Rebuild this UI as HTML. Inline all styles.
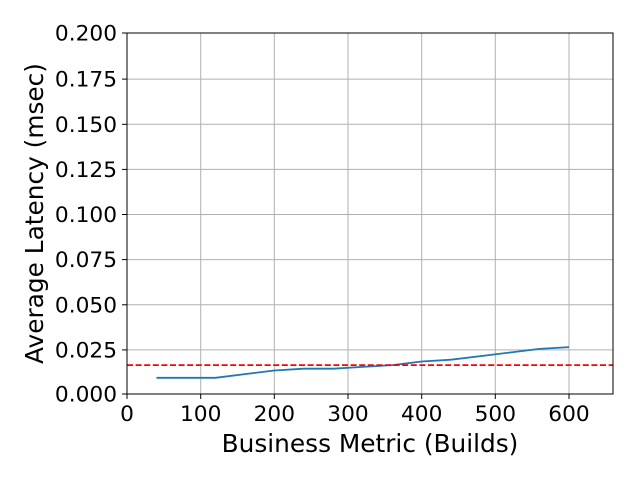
<!DOCTYPE html>
<html><head><style>body{margin:0;background:#fff}svg{display:block}</style></head><body>
<svg width="640" height="480" xmlns="http://www.w3.org/2000/svg" font-family="DejaVu Sans, Liberation Sans, sans-serif">
<rect width="640" height="480" fill="#fff"/>
<g stroke="#b0b0b0" stroke-width="1">
<line x1="127" x2="613" y1="349.9" y2="349.9"/><line x1="127" x2="613" y1="304.8" y2="304.8"/><line x1="127" x2="613" y1="259.6" y2="259.6"/><line x1="127" x2="613" y1="214.5" y2="214.5"/><line x1="127" x2="613" y1="169.4" y2="169.4"/><line x1="127" x2="613" y1="124.3" y2="124.3"/><line x1="127" x2="613" y1="79.1" y2="79.1"/>
<line y1="33" y2="394" x1="200.7" x2="200.7"/><line y1="33" y2="394" x1="274.3" x2="274.3"/><line y1="33" y2="394" x1="348" x2="348"/><line y1="33" y2="394" x1="421.7" x2="421.7"/><line y1="33" y2="394" x1="495.3" x2="495.3"/><line y1="33" y2="394" x1="569" x2="569"/>
</g>
<polyline fill="none" stroke="#1f77b4" stroke-width="1.8" points="156.5,377.8 215.4,377.8 274.3,370.5 303.8,368.7 333.3,368.7 362.7,366.9 392.2,365.1 421.7,361.5 451.1,359.7 480.6,356.1 510.1,352.5 539.5,348.9 569,347.1"/>
<line x1="127" x2="613" y1="365.1" y2="365.1" stroke="#ff0000" stroke-width="1.8" stroke-dasharray="6,2.6"/>
<rect x="127" y="33" width="486" height="361" fill="none" stroke="#000" stroke-width="1"/>
<g stroke="#000" stroke-width="1">
<line x1="127" x2="122" y1="394" y2="394"/><line x1="127" x2="122" y1="349.9" y2="349.9"/><line x1="127" x2="122" y1="304.8" y2="304.8"/><line x1="127" x2="122" y1="259.6" y2="259.6"/><line x1="127" x2="122" y1="214.5" y2="214.5"/><line x1="127" x2="122" y1="169.4" y2="169.4"/><line x1="127" x2="122" y1="124.3" y2="124.3"/><line x1="127" x2="122" y1="79.1" y2="79.1"/><line x1="127" x2="122" y1="33" y2="33"/>
<line y1="394" y2="399" x1="127" x2="127"/><line y1="394" y2="399" x1="200.7" x2="200.7"/><line y1="394" y2="399" x1="274.3" x2="274.3"/><line y1="394" y2="399" x1="348" x2="348"/><line y1="394" y2="399" x1="421.7" x2="421.7"/><line y1="394" y2="399" x1="495.3" x2="495.3"/><line y1="394" y2="399" x1="569" x2="569"/>
</g>
<g font-size="21.7" text-anchor="end" fill="#000">
<text x="117" y="401.5">0.000</text><text x="117" y="357.4">0.025</text><text x="117" y="312.3">0.050</text><text x="117" y="267.1">0.075</text><text x="117" y="222">0.100</text><text x="117" y="176.9">0.125</text><text x="117" y="131.8">0.150</text><text x="117" y="86.6">0.175</text><text x="117" y="40.5">0.200</text>
</g>
<g font-size="21.7" text-anchor="middle" fill="#000">
<text x="127" y="421">0</text><text x="200.7" y="421">100</text><text x="274.3" y="421">200</text><text x="348" y="421">300</text><text x="421.7" y="421">400</text><text x="495.3" y="421">500</text><text x="569" y="421">600</text>
<text x="370" y="452" font-size="24.8">Business Metric (Builds)</text>
<text x="0" y="0" font-size="24.8" transform="translate(43,213.5) rotate(-90)">Average Latency (msec)</text>
</g>
</svg>
</body></html>
